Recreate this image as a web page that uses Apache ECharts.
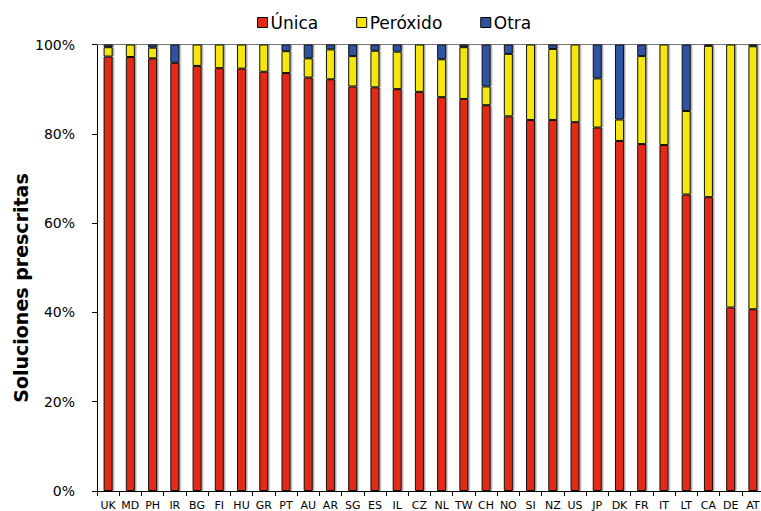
<!DOCTYPE html>
<html>
<head>
<meta charset="utf-8">
<script src="https://cdn.jsdelivr.net/npm/echarts@6/dist/echarts.min.js"></script>
<style>html,body{margin:0;padding:0;background:#fff}#c{width:761px;height:511px}</style>
</head>
<body>
<div id="c"></div>
<script>
const categories = ['UK','MD','PH','IR','BG','FI','HU','GR','PT','AU','AR','SG','ES','IL','CZ','NL','TW','CH','NO','SI','NZ','US','JP','DK','FR','IT','LT','CA','DE','AT'];
const unica =    [97.3,97.2,96.9,95.9,95.2,94.7,94.6,93.9,93.6,92.6,92.2,90.6,90.4,90.0,89.4,88.2,87.8,86.4,83.9,83.1,83.1,82.6,81.4,78.4,77.7,77.5,66.4,65.8,41.1,40.7];
const peroxido = [2.1,2.8,2.4,0,4.8,5.3,5.4,6.1,4.9,4.3,6.7,6.8,8.2,8.4,10.6,8.5,11.6,4.2,14.0,16.9,15.9,17.4,11.0,4.8,19.7,22.5,18.7,33.9,58.9,58.9];
const otra =     [0.6,0,0.7,4.1,0,0,0,0,1.5,3.1,1.1,2.6,1.4,1.6,0,3.3,0.6,9.4,2.1,0,1.0,0,7.6,16.8,2.6,0,14.9,0.3,0,0.4];
const yTicks = [0,20,40,60,80,100];
const yName = 'Soluciones prescritas';

const font = '"DejaVu Sans", Verdana, sans-serif';
const barStyle = (c) => ({color: c, borderColor: '#111', borderWidth: 1, shadowColor: 'rgba(0,0,0,0.35)', shadowOffsetX: 1.5, shadowBlur: 1});
const mk = (name, data, color) => ({
  name, type: 'bar', stack: 'a', data, barWidth: 9,
  itemStyle: barStyle(color), emphasis: {disabled: true}
});

const chart = echarts.init(document.getElementById('c'), null, {renderer: 'svg'});
chart.setOption({
  animation: false,
  textStyle: {fontFamily: font},
  legend: {
    top: 9, left: 252, itemGap: 38, itemWidth: 10, itemHeight: 10,
    icon: 'rect',
    textStyle: {fontSize: 17, color: '#000', fontFamily: font, padding: [0,0,0,-2]},
    itemStyle: {borderColor: '#000', borderWidth: 1},
    data: ['Única','Peróxido','Otra']
  },
  grid: {left: 97, top: 44.5, width: 667, bottom: 20, outerBoundsMode: 'none', containLabel: false},
  xAxis: [{
    type: 'category', data: categories,
    axisLine: {lineStyle: {color: '#000', width: 1}},
    axisTick: {show: true, length: 5, lineStyle: {color: '#000'}, alignWithLabel: false},
    axisLabel: {fontSize: 11, color: '#000', margin: 9, interval: 0, fontFamily: font}
  },{
    type: 'category', data: categories, position: 'top',
    axisLine: {show: true, lineStyle: {color: '#777', width: 1}},
    axisTick: {show: false}, axisLabel: {show: false}
  }],
  yAxis: {
    type: 'value', min: 0, max: 100, interval: 20,
    axisLine: {show: true, lineStyle: {color: '#000', width: 1}},
    axisTick: {show: true, length: 5, lineStyle: {color: '#000'}},
    splitLine: {show: false},
    axisLabel: {fontSize: 14, color: '#000', margin: 22, fontFamily: font,
      formatter: v => yTicks.includes(v) ? v + '%' : ''}
  },
  graphic: [{
    type: 'text', x: 21, y: 288, rotation: Math.PI / 2,
    style: {text: yName, fontSize: 19, fontWeight: 'bold', fontFamily: font, fill: '#000',
      align: 'center', verticalAlign: 'middle'}
  }],
  series: [
    mk('Única', unica, '#e32a17'),
    mk('Peróxido', peroxido, '#f5e60d'),
    mk('Otra', otra, '#2d52a0')
  ]
});
</script>
</body>
</html>
